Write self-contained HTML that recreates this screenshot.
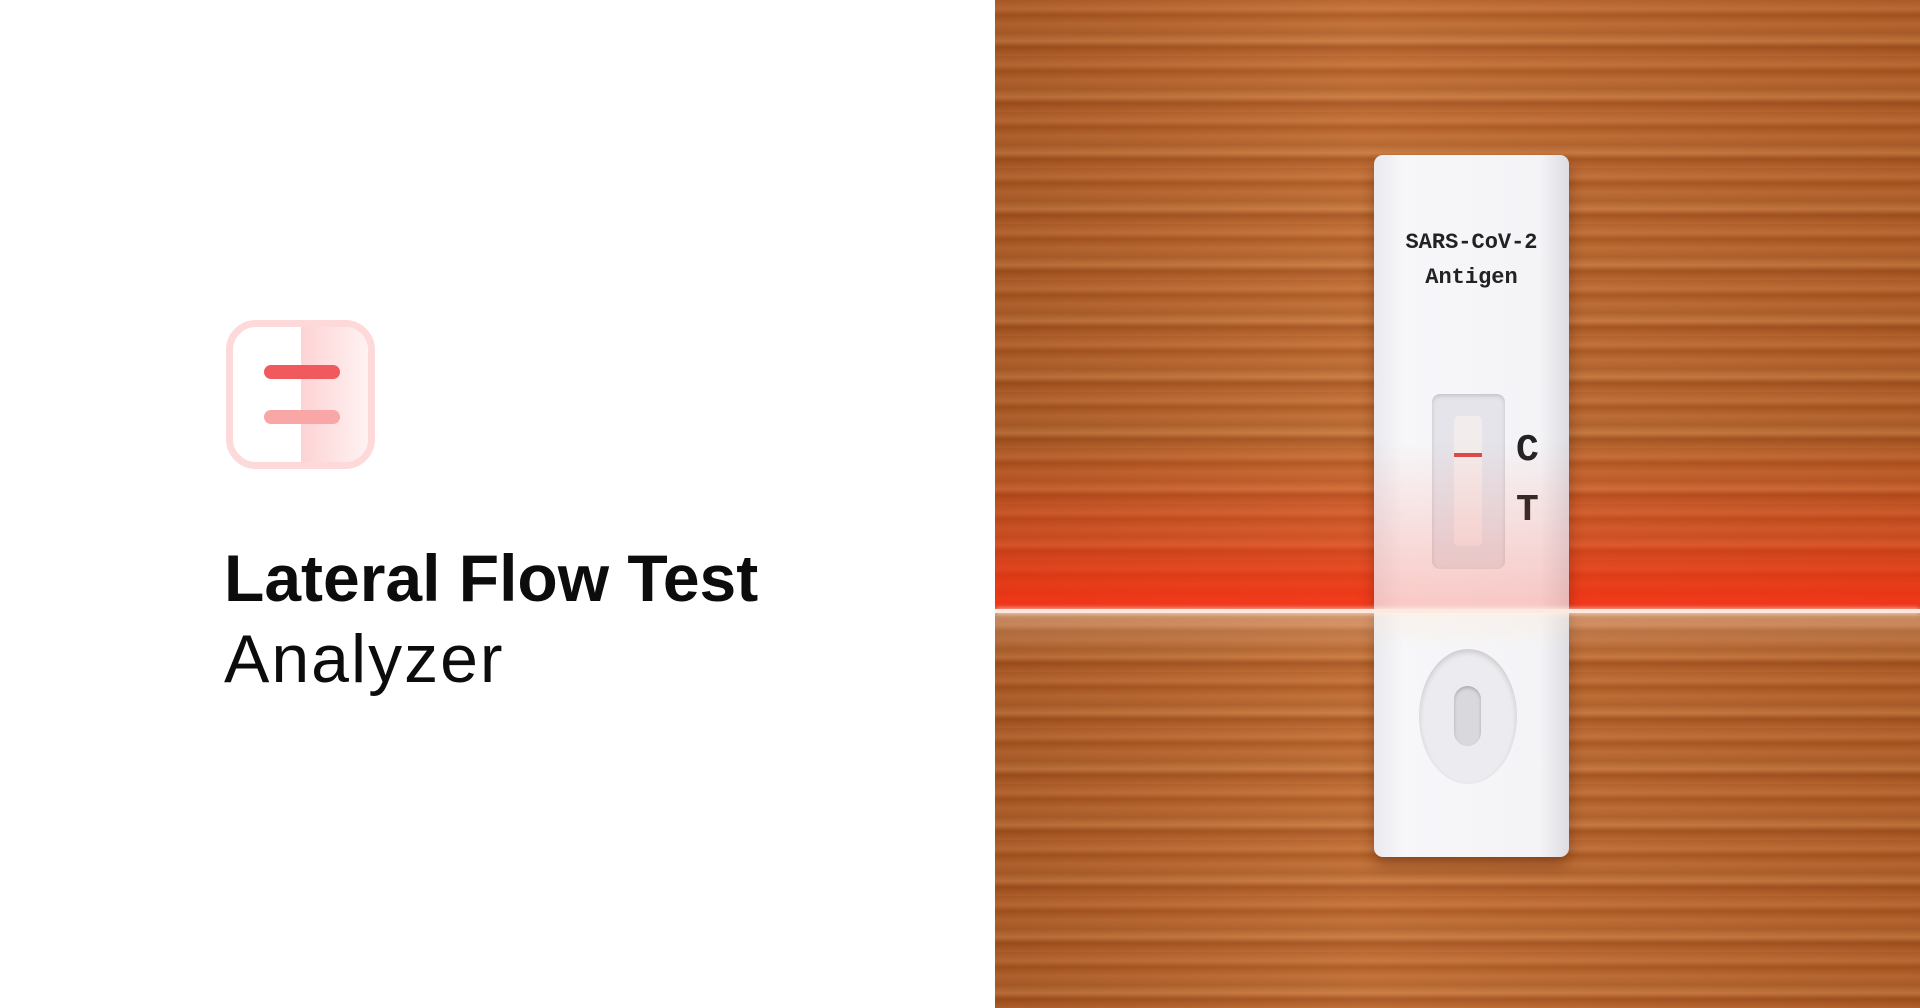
<!DOCTYPE html>
<html><head><meta charset="utf-8"><style>
html,body{margin:0;padding:0;width:1920px;height:1008px;overflow:hidden;background:#fff;font-family:"Liberation Sans",sans-serif}
#left{position:absolute;left:0;top:0;width:995px;height:1008px;background:#fff}
#icon{position:absolute;left:226px;top:320px;width:149px;height:149px;box-sizing:border-box;border:7px solid #fdd9da;border-radius:30px;overflow:hidden;background:#fff}
#icon .half{position:absolute;left:68px;top:0;right:0;bottom:0;background:linear-gradient(90deg,#fdd3d4,#fff2f2)}
.bar{position:absolute;left:31px;width:76px;height:14px;border-radius:7px}
#title{position:absolute;left:224px;top:540px;font-size:66px;font-weight:bold;color:#0c0c0c;letter-spacing:0px}
#sub{position:absolute;left:224px;top:620px;font-size:68px;color:#0c0c0c;letter-spacing:2px}
#right{position:absolute;left:995px;top:0;width:925px;height:1008px;overflow:hidden;
background:repeating-linear-gradient(180deg,#b5602a 0px,#c4723a 9px,#a9561f 15px,#bf6c33 24px,#b0612b 33px,#c97a40 41px,#a4521e 47px,#bb6830 56px);}
#wood2{position:absolute;inset:0;background:linear-gradient(90deg,rgba(80,30,5,0.15),rgba(255,200,150,0.08) 40%,rgba(80,30,5,0.1) 100%)}
#glow{position:absolute;left:0;right:0;top:440px;height:172px;background:linear-gradient(180deg,rgba(255,40,20,0) 0%,rgba(255,50,20,0.35) 55%,rgba(255,40,15,0.85) 100%)}
#line{position:absolute;left:0;right:0;top:609px;height:4px;background:#ffe9dc;box-shadow:0 0 6px #fff}
#below{position:absolute;left:0;right:0;top:613px;height:40px;background:linear-gradient(180deg,rgba(255,230,210,0.35),rgba(255,230,210,0))}
#card{position:absolute;left:379px;top:155px;width:195px;height:702px;border-radius:9px;background:linear-gradient(90deg,#e9e9ee,#f7f7fa 15%,#f4f4f7 85%,#dcdce2);box-shadow:0 8px 14px rgba(60,20,0,0.35)}
.ctxt{position:absolute;width:195px;text-align:center;font-family:"Liberation Mono",monospace;font-size:22px;font-weight:bold;color:#222}
#win{position:absolute;left:58px;top:239px;width:73px;height:175px;border-radius:8px;background:#e4e4ea;box-shadow:inset 0 2px 4px rgba(0,0,0,0.15)}
#strip{position:absolute;left:22px;top:22px;width:28px;height:130px;border-radius:5px;background:#f3ecec}
#cline{position:absolute;left:22px;top:59px;width:28px;height:4px;background:#d84a4a}
.lt{position:absolute;font-size:38px;font-weight:bold;color:#222;font-family:"Liberation Mono",monospace}
#well{position:absolute;left:45px;top:494px;width:98px;height:135px;border-radius:50%;background:#ececf0;box-shadow:inset 0 3px 6px rgba(0,0,0,0.15)}
#hole{position:absolute;left:35px;top:37px;width:27px;height:60px;border-radius:14px;background:#d8d8dd;box-shadow:inset 0 2px 3px rgba(0,0,0,0.2)}
#cardglow{position:absolute;left:379px;top:440px;width:195px;height:172px;background:linear-gradient(180deg,rgba(255,80,60,0),rgba(255,90,70,0.3))}
</style></head><body>
<div id="left">
  <div id="icon">
    <div class="half"></div>
    <div class="bar" style="top:38px;background:#f05a5c"></div>
    <div class="bar" style="top:83px;background:#f9a6a6"></div>
  </div>
  <div id="title">Lateral Flow Test</div>
  <div id="sub">Analyzer</div>
</div>
<div id="right">
  <div id="wood2"></div>
  <div id="glow"></div>
  <div id="card">
    <div class="ctxt" style="top:75px">SARS-CoV-2</div>
    <div class="ctxt" style="top:110px">Antigen</div>
    <div id="win">
      <div id="strip"></div><div id="cline"></div>
    </div>
    <div class="lt" style="left:142px;top:274px">C</div>
    <div class="lt" style="left:142px;top:334px">T</div>
    <div id="well"><div id="hole"></div></div>
  </div>
  <div id="cardglow"></div>
  <div id="line"></div>
  <div id="below"></div>
</div>
</body></html>
